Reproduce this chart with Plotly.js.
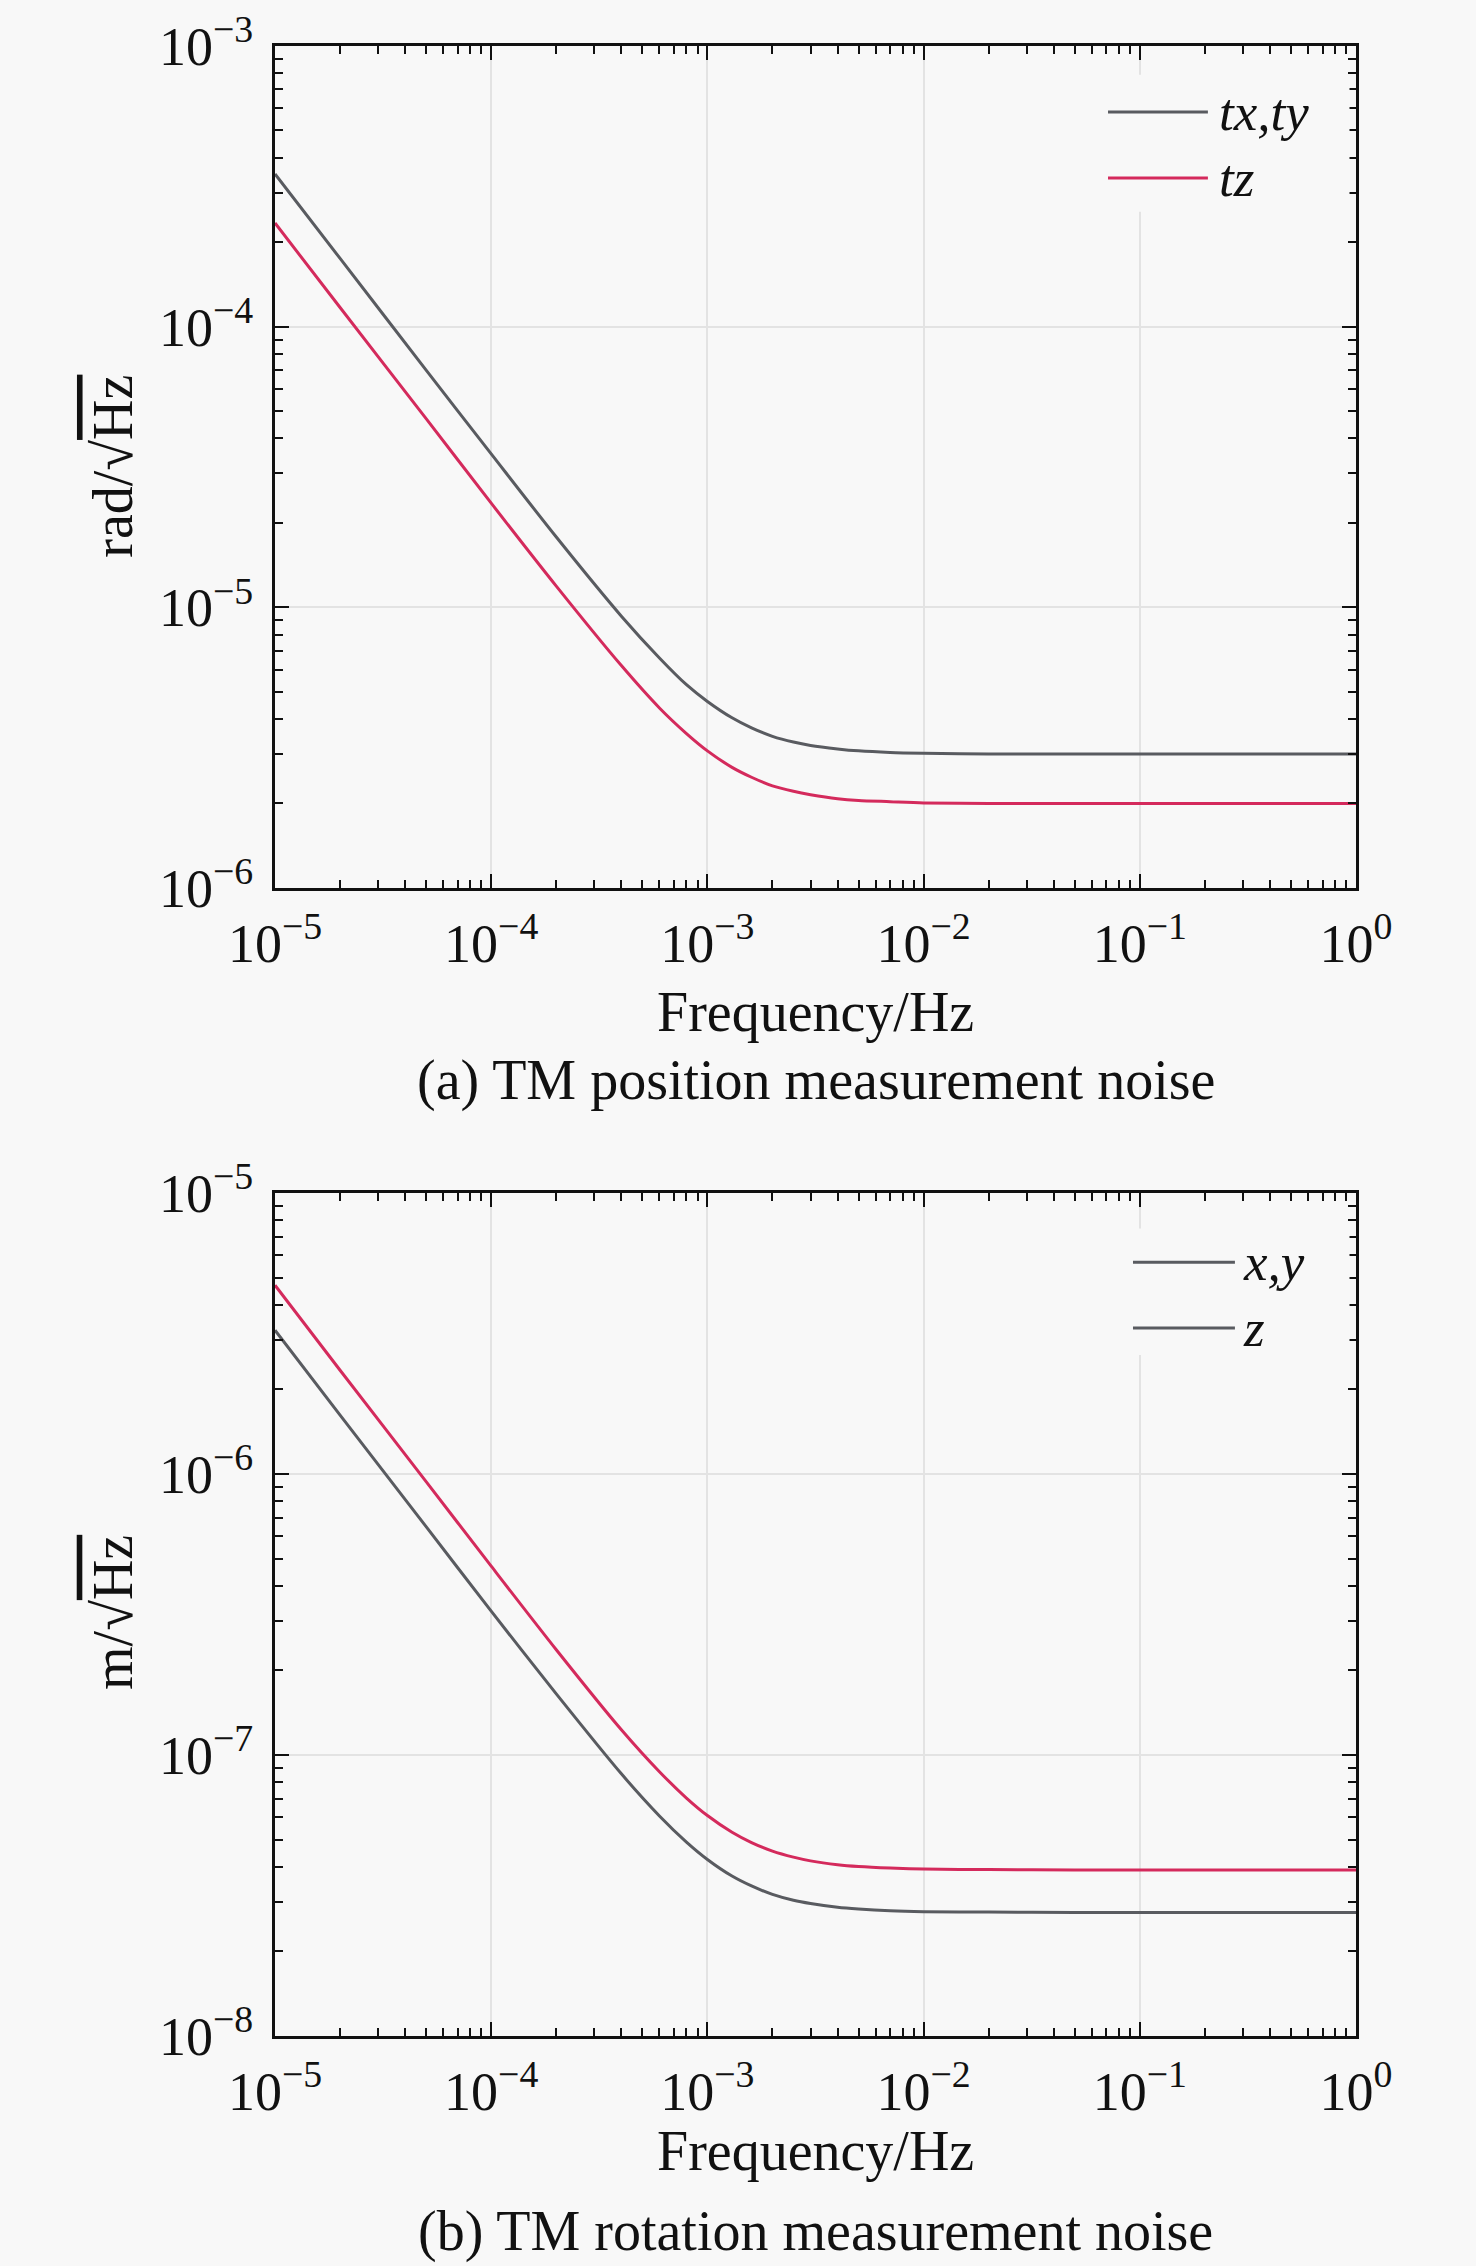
<!DOCTYPE html>
<html>
<head>
<meta charset="utf-8">
<script src="https://cdn.plot.ly/plotly-3.0.1.min.js"></script>
<style>
  html, body { margin: 0; padding: 0; background: #f8f8f8; }
  #chart { width: 1476px; height: 2266px; }
</style>
</head>
<body>
<div id="chart"></div>
<script>
const freq = [1e-5, 2e-5, 5e-5, 1e-4, 2e-4, 4e-4, 6e-4, 8e-4, 1e-3, 1.3e-3, 1.6e-3,
  2e-3, 2.5e-3, 3e-3, 4e-3, 5e-3, 7e-3, 1e-2, 2e-2, 5e-2, 1e-1, 1]

// (a) TM position measurement noise, rad/sqrt(Hz)
const txty = [3.5e-4, 1.75e-4, 7.0e-5, 3.52e-5, 1.78e-5, 9.3e-6, 6.6e-6, 5.3e-6, 4.62e-6, 4.04e-6, 3.72e-6,
  3.47e-6, 3.31e-6, 3.22e-6, 3.13e-6, 3.08e-6, 3.04e-6, 3.02e-6, 3.0e-6, 3.0e-6, 3.0e-6, 3.0e-6]
const tz = [2.34e-4, 1.17e-4, 4.7e-5, 2.35e-5, 1.19e-5, 6.2e-6, 4.38e-6, 3.55e-6, 3.08e-6, 2.69e-6, 2.48e-6,
  2.31e-6, 2.21e-6, 2.15e-6, 2.08e-6, 2.05e-6, 2.03e-6, 2.01e-6, 2.0e-6, 2.0e-6, 2.0e-6, 2.0e-6]

// (b) TM rotation measurement noise, m/sqrt(Hz)
const xy = [3.25e-6, 1.62e-6, 6.5e-7, 3.25e-7, 1.65e-7, 8.57e-8, 6.07e-8, 4.9e-8, 4.25e-8, 3.71e-8, 3.42e-8,
  3.19e-8, 3.04e-8, 2.96e-8, 2.87e-8, 2.83e-8, 2.79e-8, 2.77e-8, 2.76e-8, 2.75e-8, 2.75e-8, 2.75e-8]
const z = [4.7e-6, 2.34e-6, 9.4e-7, 4.7e-7, 2.37e-7, 1.23e-7, 8.72e-8, 7.03e-8, 6.09e-8, 5.31e-8, 4.88e-8,
  4.55e-8, 4.33e-8, 4.2e-8, 4.07e-8, 4.01e-8, 3.96e-8, 3.93e-8, 3.91e-8, 3.9e-8, 3.9e-8, 3.9e-8]

const xTickVals = [1e-5, 1e-4, 1e-3, 1e-2, 1e-1, 1]
const xTickText = ['10<sup>−5</sup>', '10<sup>−4</sup>', '10<sup>−3</sup>', '10<sup>−2</sup>', '10<sup>−1</sup>', '10<sup>0</sup>']
const yTickValsA = [1e-6, 1e-5, 1e-4, 1e-3]
const yTickTextA = ['10<sup>−6</sup>', '10<sup>−5</sup>', '10<sup>−4</sup>', '10<sup>−3</sup>']
const yTickValsB = [1e-8, 1e-7, 1e-6, 1e-5]
const yTickTextB = ['10<sup>−8</sup>', '10<sup>−7</sup>', '10<sup>−6</sup>', '10<sup>−5</sup>']

const namesA = ['tx,ty', 'tz']
const namesB = ['x,y', 'z']

const GRAY = '#595b60'
const RED = '#d42a5c'
const BG = '#f8f8f8'
const FONT = 'Liberation Serif, Times New Roman, serif'

const traces = [
  { x: freq, y: txty, name: namesA[0], xaxis: 'x', yaxis: 'y', line: { color: GRAY, width: 3, shape: 'spline', smoothing: 0.8 } },
  { x: freq, y: tz, name: namesA[1], xaxis: 'x', yaxis: 'y', line: { color: RED, width: 3, shape: 'spline', smoothing: 0.8 } },
  { x: freq, y: xy, name: namesB[0], xaxis: 'x2', yaxis: 'y2', line: { color: GRAY, width: 3, shape: 'spline', smoothing: 0.8 } },
  { x: freq, y: z, name: namesB[1], xaxis: 'x2', yaxis: 'y2', line: { color: RED, width: 3, shape: 'spline', smoothing: 0.8 } }
].map(t => Object.assign({ type: 'scatter', mode: 'lines', showlegend: false, hoverinfo: 'skip' }, t))

function xAxis (anchor) {
  return {
    anchor: anchor,
    domain: [0, 1],
    type: 'log',
    range: [-5, 0],
    tickvals: xTickVals,
    ticktext: xTickText,
    ticks: 'inside',
    ticklen: 14,
    tickwidth: 2,
    tickcolor: '#111',
    showline: true,
    linewidth: 3,
    linecolor: '#111',
    mirror: 'allticks',
    showgrid: true,
    gridcolor: '#e3e3e3',
    gridwidth: 2,
    zeroline: false,
    tickfont: { family: FONT, size: 54, color: '#111' },
    ticklabelstandoff: 6,
    minor: { ticks: 'inside', ticklen: 8, tickwidth: 2, tickcolor: '#111', dtick: 'D1', showgrid: false }
  }
}

function yAxis (anchor, domain, range, vals, text) {
  return {
    anchor: anchor,
    domain: domain,
    type: 'log',
    range: range,
    tickvals: vals,
    ticktext: text,
    ticks: 'inside',
    ticklen: 14,
    tickwidth: 2,
    tickcolor: '#111',
    showline: true,
    linewidth: 3,
    linecolor: '#111',
    mirror: 'allticks',
    showgrid: true,
    gridcolor: '#e3e3e3',
    gridwidth: 2,
    zeroline: false,
    tickfont: { family: FONT, size: 54, color: '#111' },
    ticklabelstandoff: 8,
    minor: { ticks: 'inside', ticklen: 8, tickwidth: 2, tickcolor: '#111', dtick: 'D1', showgrid: false }
  }
}

// hand-made legend: background box, long sample lines, italic labels
function legend (xa, ya, colors, names, box, lineX, textX, rowsY) {
  const shapes = [{
    type: 'rect', xref: xa + ' domain', yref: ya + ' domain', layer: 'above',
    x0: box[0], x1: box[1], y0: box[2], y1: box[3],
    fillcolor: BG, line: { width: 0 }
  }]
  const notes = []
  names.forEach((n, i) => {
    shapes.push({
      type: 'line', xref: xa + ' domain', yref: ya + ' domain', layer: 'above',
      x0: lineX[0], x1: lineX[1], y0: rowsY[i], y1: rowsY[i],
      line: { color: colors[i], width: 3 }
    })
    notes.push({
      xref: xa + ' domain', yref: ya + ' domain', x: textX, y: rowsY[i],
      xanchor: 'left', yanchor: 'middle', showarrow: false,
      text: '<i>' + n + '</i>', font: { family: FONT, size: 53, color: '#111' }
    })
  })
  return { shapes, notes }
}

const legA = legend('x', 'y', [GRAY, RED], namesA, [0.758, 0.994, 0.803, 0.966], [0.7706, 0.863], 0.8714, [0.9216, 0.8432])
const legB = legend('x2', 'y2', [GRAY, GRAY], namesB, [0.781, 0.994, 0.808, 0.958], [0.7937, 0.888], 0.8936, [0.918, 0.840])

const textFont = { family: FONT, size: 56, color: '#111' }
const labels = [
  { text: 'Frequency/Hz', x: 0.5, y: 0.5146 },
  { text: '(a) TM position measurement noise', x: 0.5, y: 0.4799 },
  { text: 'Frequency/Hz', x: 0.5, y: -0.0578 },
  { text: '(b) TM rotation measurement noise', x: 0.5, y: -0.098 },
  { text: 'rad/√<span style="text-decoration:overline">Hz</span>', x: -0.15, y: 0.789, textangle: -90 },
  { text: 'm/√<span style="text-decoration:overline">Hz</span>', x: -0.15, y: 0.213, textangle: -90 }
].map(a => Object.assign({ xref: 'paper', yref: 'paper', xanchor: 'center', yanchor: 'middle', showarrow: false, font: textFont }, a))

const layout = {
  width: 1476,
  height: 2266,
  margin: { l: 275, r: 120, t: 46, b: 230 },
  paper_bgcolor: BG,
  plot_bgcolor: BG,
  showlegend: false,
  font: { family: FONT, color: '#111' },
  xaxis: xAxis('y'),
  yaxis: yAxis('x', [0.5769, 1], [-6, -3], yTickValsA, yTickTextA),
  xaxis2: xAxis('y2'),
  yaxis2: yAxis('x2', [0, 0.4236], [-8, -5], yTickValsB, yTickTextB),
  shapes: legA.shapes.concat(legB.shapes),
  annotations: legA.notes.concat(legB.notes, labels)
}

Plotly.newPlot('chart', traces, layout, { staticPlot: true })
</script>
</body>
</html>
